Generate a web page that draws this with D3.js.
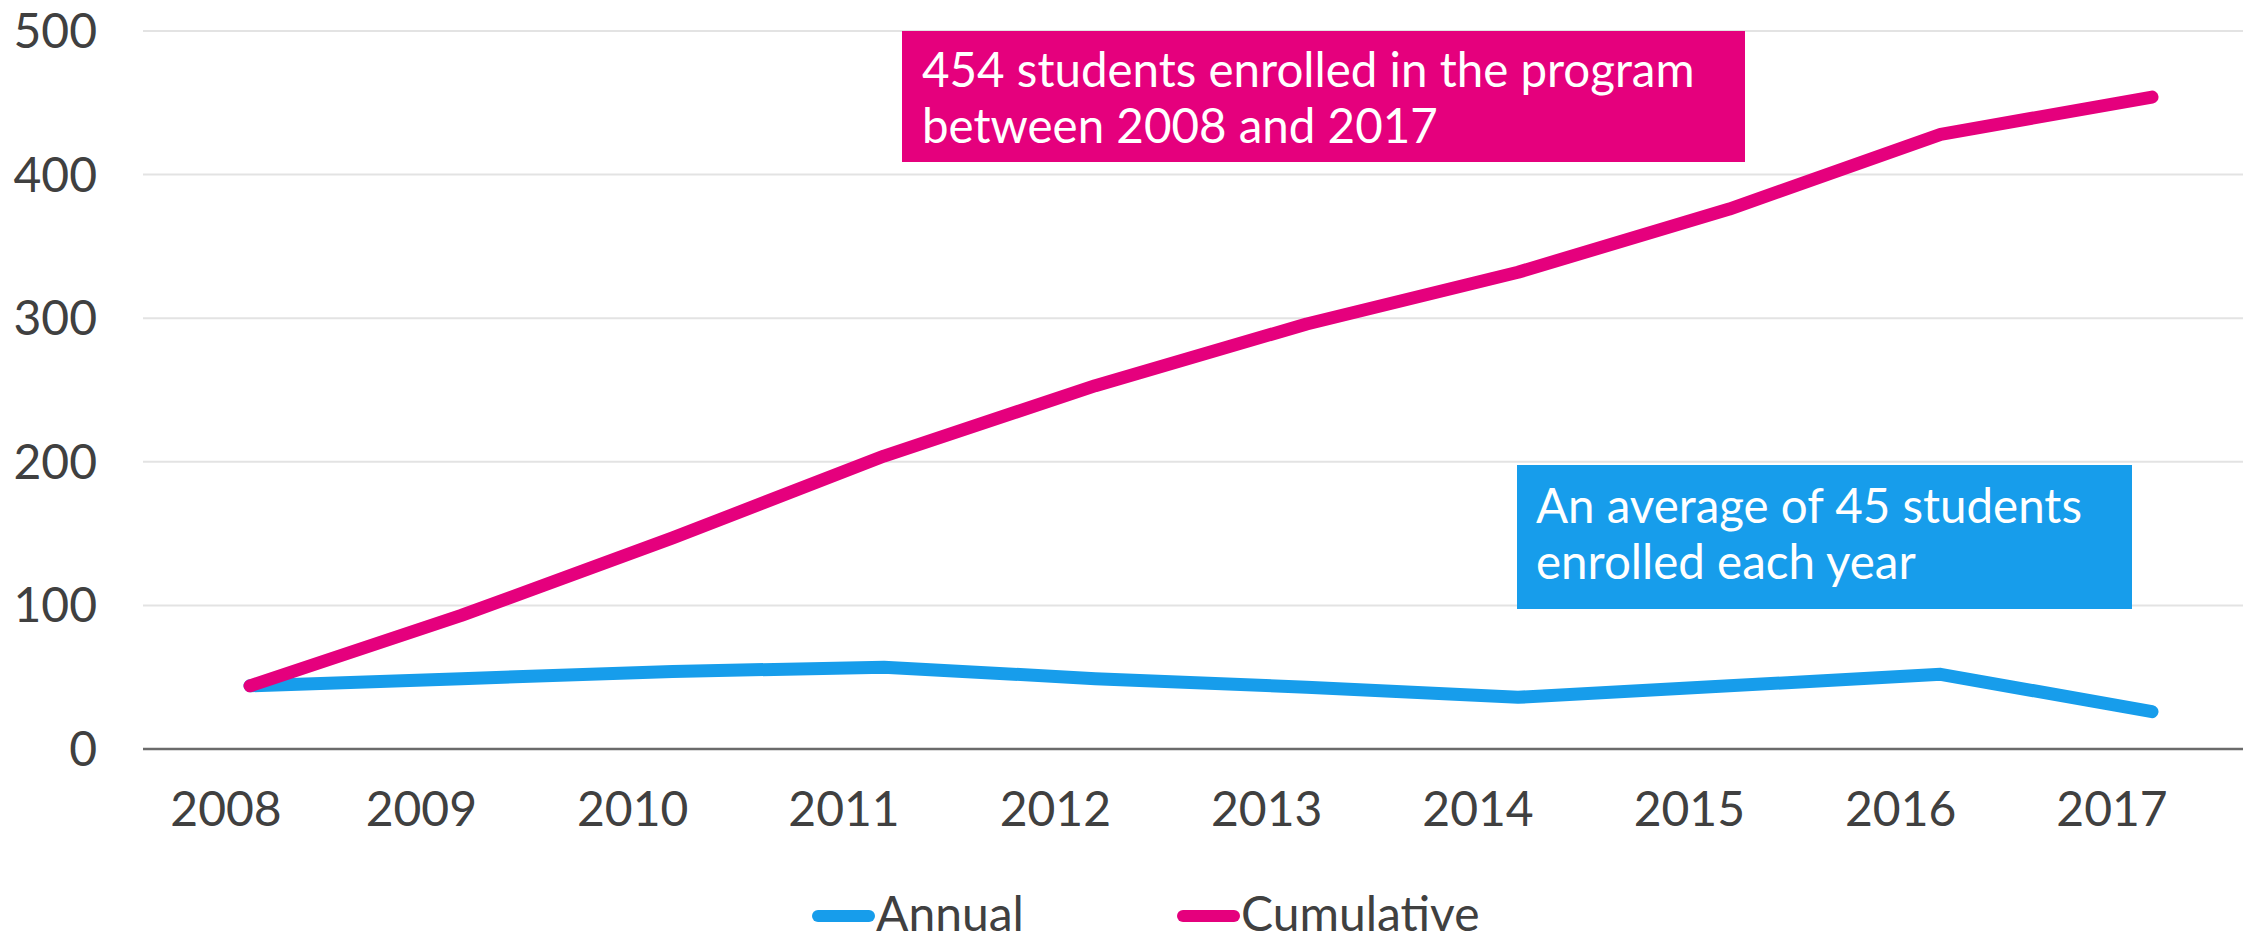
<!DOCTYPE html>
<html>
<head>
<meta charset="utf-8">
<script src="https://cdn.jsdelivr.net/npm/d3@7"></script>
<style>
  body { margin: 0; background: #fff; }
  svg { display: block; font-family: Lato, sans-serif; }
</style>
</head>
<body>
<script>
var years = ['2008', '2009', '2010', '2011', '2012', '2013', '2014', '2015', '2016', '2017'];
var annual = [44, 49, 54, 57, 49, 43, 36, 44, 52, 26];
var cumulative = [44, 93, 147, 204, 253, 296, 332, 376, 428, 454];
var yTicks = [0, 100, 200, 300, 400, 500];
var seriesNames = ['Annual', 'Cumulative'];
var notes = [
    ['454 students enrolled in the program', 'between 2008 and 2017'],
    ['An average of 45 students', 'enrolled each year']
];

const pink = '#e5007d';
const blue = '#179deb';
const textColor = '#404040';

const svg = d3.select('body')
    .append('svg')
    .attr('width', 2243)
    .attr('height', 935);

const x = d3.scalePoint()
    .domain(years)
    .range([250, 2152]);

const y = d3.scaleLinear()
    .domain([0, 500])
    .range([749, 31]);

// gridlines
svg.append('g')
    .selectAll('line')
    .data(yTicks)
    .enter()
    .append('line')
    .attr('x1', 143)
    .attr('x2', 2243)
    .attr('y1', d => y(d))
    .attr('y2', d => y(d))
    .attr('stroke', d => d === 0 ? '#6b6b6b' : '#e3e3e3')
    .attr('stroke-width', d => d === 0 ? 2.5 : 2);

// y labels
svg.append('g')
    .selectAll('text')
    .data(yTicks)
    .enter()
    .append('text')
    .attr('x', 97)
    .attr('y', d => y(d) + 17)
    .attr('text-anchor', 'end')
    .attr('font-size', 48)
    .attr('fill', textColor)
    .text(d => d);

// x labels (shifted left of the points, like the original)
svg.append('g')
    .selectAll('text')
    .data(years)
    .enter()
    .append('text')
    .attr('x', (d, i) => x(d) - (i === 0 ? 24 : 40))
    .attr('y', 826)
    .attr('text-anchor', 'middle')
    .attr('font-size', 48)
    .attr('fill', textColor)
    .text(d => d);

const line = d3.line()
    .x((d, i) => x(years[i]))
    .y(d => y(d));

[[annual, blue], [cumulative, pink]].forEach(s => {
    svg.append('path')
        .attr('d', line(s[0]))
        .attr('fill', 'none')
        .attr('stroke', s[1])
        .attr('stroke-width', 13)
        .attr('stroke-linecap', 'round')
        .attr('stroke-linejoin', 'round');
});

// annotation boxes
const boxes = [
    { lines: notes[0], color: pink, x0: 902, x1: 1745, top: 31, bottom: 162, tx: 922, ty: 87 },
    { lines: notes[1], color: blue, x0: 1517, x1: 2132, top: 465, bottom: 609, tx: 1536, ty: 523 }
];
boxes.forEach(b => {
    svg.append('rect')
        .attr('x', b.x0)
        .attr('y', b.top)
        .attr('width', b.x1 - b.x0)
        .attr('height', b.bottom - b.top)
        .attr('fill', b.color);
    svg.append('g')
        .selectAll('text')
        .data(b.lines)
        .enter()
        .append('text')
        .attr('x', b.tx)
        .attr('y', (d, i) => b.ty + i * 56)
        .attr('font-size', 47.5)
        .attr('fill', '#fff')
        .text(d => d);
});

// legend
const legend = svg.append('g');
const legendPos = [812, 1177];
seriesNames.forEach((name, i) => {
    const lx = legendPos[i];
    legend.append('line')
        .attr('x1', lx + 6)
        .attr('x2', lx + 57)
        .attr('y1', 916)
        .attr('y2', 916)
        .attr('stroke', i === 0 ? blue : pink)
        .attr('stroke-width', 12)
        .attr('stroke-linecap', 'round');
    legend.append('text')
        .attr('x', lx + 64)
        .attr('y', 931)
        .attr('font-size', 48)
        .attr('fill', textColor)
        .text(name);
});
</script>
</body>
</html>
